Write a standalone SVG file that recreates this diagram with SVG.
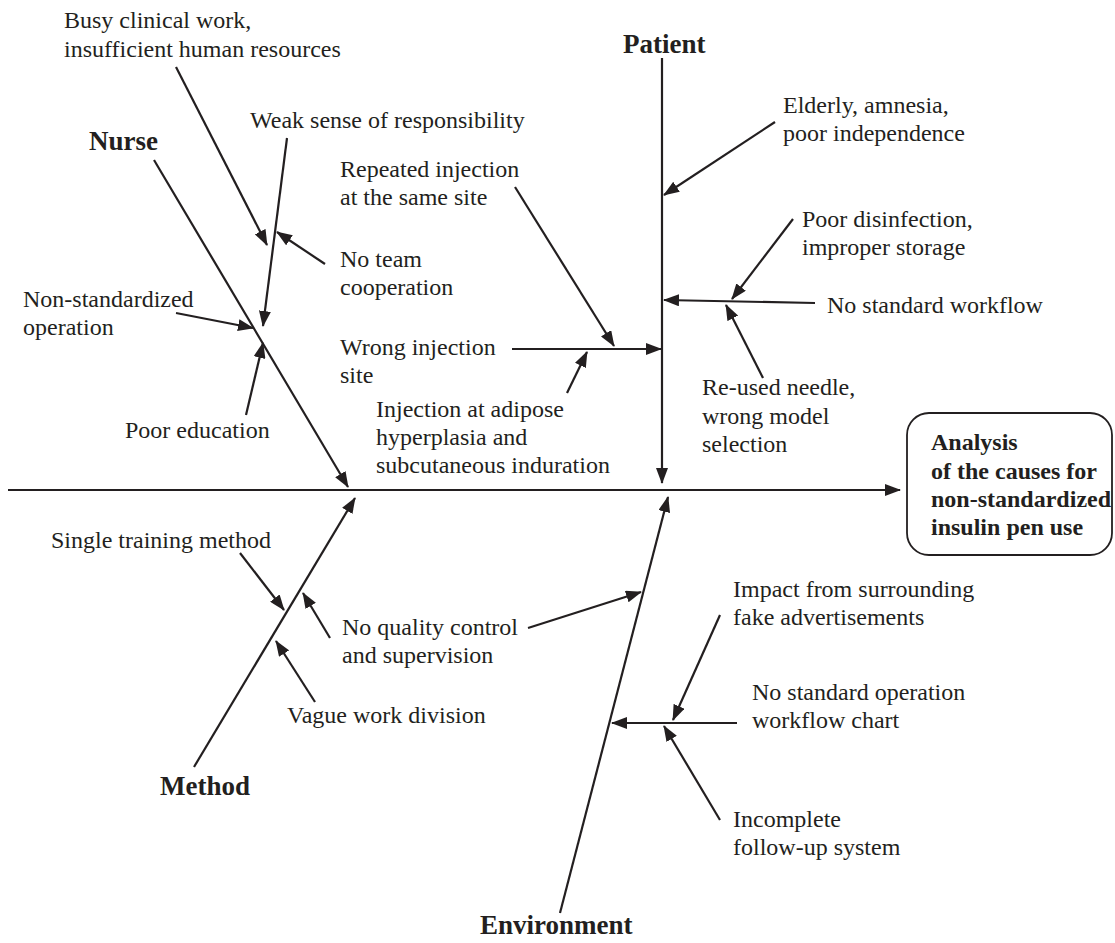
<svg xmlns="http://www.w3.org/2000/svg" width="1115" height="943" viewBox="0 0 1115 943">
<style>
.t{font-family:"Liberation Serif","Times New Roman",serif;font-size:24px;fill:#231f20}
.c{font-family:"Liberation Serif","Times New Roman",serif;font-size:27px;font-weight:bold;fill:#231f20}
.b{font-family:"Liberation Serif","Times New Roman",serif;font-size:24px;font-weight:bold;fill:#231f20}
.l{stroke:#231f20;stroke-width:2.2;fill:none}
.a{stroke:#231f20;stroke-width:2.2;fill:none;marker-end:url(#ah)}
</style>
<defs>
<marker id="ah" viewBox="0 0 16 12" markerWidth="16" markerHeight="12" refX="15" refY="6" orient="auto" markerUnits="userSpaceOnUse">
<path d="M0,0 L16,6 L0,12 z" fill="#231f20"/>
</marker>
</defs>
<rect width="1115" height="943" fill="#ffffff"/>
<g id="connectors">
<line class="a" x1="8" y1="490" x2="900" y2="490"/>
<line class="a" x1="154" y1="160" x2="348" y2="487"/>
<line class="a" x1="176" y1="67" x2="267" y2="245"/>
<line class="a" x1="287" y1="138" x2="263" y2="326"/>
<line class="a" x1="325" y1="264" x2="277" y2="232"/>
<line class="a" x1="176" y1="313" x2="253" y2="328"/>
<line class="a" x1="246" y1="415" x2="263" y2="343"/>
<line class="a" x1="662" y1="58" x2="662" y2="483"/>
<line class="a" x1="775" y1="122" x2="664" y2="195"/>
<line class="a" x1="815" y1="303" x2="664" y2="300"/>
<line class="a" x1="793" y1="219" x2="732" y2="299"/>
<line class="a" x1="763" y1="378" x2="726" y2="305"/>
<line class="a" x1="512" y1="349" x2="661" y2="349"/>
<line class="a" x1="515" y1="187" x2="614" y2="346"/>
<line class="a" x1="567" y1="393" x2="587" y2="352"/>
<line class="a" x1="194" y1="767" x2="355" y2="498"/>
<line class="a" x1="240" y1="553" x2="284" y2="610"/>
<line class="a" x1="330" y1="638" x2="303" y2="593"/>
<line class="a" x1="315" y1="702" x2="276" y2="641"/>
<line class="a" x1="560" y1="913" x2="668" y2="497"/>
<line class="a" x1="528" y1="628" x2="641" y2="592"/>
<line class="a" x1="737" y1="723" x2="612" y2="723"/>
<line class="a" x1="720" y1="615" x2="673" y2="720"/>
<line class="a" x1="720" y1="820" x2="664" y2="726"/>
</g>
<g id="effect">
<rect x="907" y="413" width="205" height="142" rx="22" ry="22" fill="#ffffff" stroke="#231f20" stroke-width="1.8"/>
<text class="b" x="931" y="450">Analysis</text>
<text class="b" x="931" y="479">of the causes for</text>
<text class="b" x="931" y="507">non-standardized</text>
<text class="b" x="931" y="535">insulin pen use</text>
</g>
<g id="nurse"><text class="c" x="89" y="150">Nurse</text></g>
<g id="patient"><text class="c" x="623" y="53">Patient</text></g>
<g id="method"><text class="c" x="160" y="795">Method</text></g>
<g id="environment"><text class="c" x="480" y="934">Environment</text></g>
<g id="busy"><text class="t" x="64" y="28">Busy clinical work,</text><text class="t" x="64" y="57">insufficient human resources</text></g>
<g id="weak"><text class="t" x="250" y="128">Weak sense of responsibility</text></g>
<g id="noteam"><text class="t" x="340" y="267">No team</text><text class="t" x="340" y="295">cooperation</text></g>
<g id="nonstd"><text class="t" x="23" y="307">Non-standardized</text><text class="t" x="23" y="335">operation</text></g>
<g id="pooredu"><text class="t" x="125" y="438">Poor education</text></g>
<g id="elderly"><text class="t" x="783" y="113">Elderly, amnesia,</text><text class="t" x="783" y="141">poor independence</text></g>
<g id="repeated"><text class="t" x="340" y="177">Repeated injection</text><text class="t" x="340" y="205">at the same site</text></g>
<g id="disinfection"><text class="t" x="802" y="227">Poor disinfection,</text><text class="t" x="802" y="255">improper storage</text></g>
<g id="noworkflow"><text class="t" x="827" y="313">No standard workflow</text></g>
<g id="wrongsite"><text class="t" x="340" y="355">Wrong injection</text><text class="t" x="340" y="383">site</text></g>
<g id="reused"><text class="t" x="702" y="395">Re-used needle,</text><text class="t" x="702" y="424">wrong model</text><text class="t" x="702" y="452">selection</text></g>
<g id="adipose"><text class="t" x="376" y="417">Injection at adipose</text><text class="t" x="376" y="445">hyperplasia and</text><text class="t" x="376" y="473">subcutaneous induration</text></g>
<g id="singletraining"><text class="t" x="51" y="548">Single training method</text></g>
<g id="quality"><text class="t" x="342" y="635">No quality control</text><text class="t" x="342" y="663">and supervision</text></g>
<g id="vague"><text class="t" x="287" y="723">Vague work division</text></g>
<g id="impact"><text class="t" x="733" y="597">Impact from surrounding</text><text class="t" x="733" y="625">fake advertisements</text></g>
<g id="nochart"><text class="t" x="752" y="700">No standard operation</text><text class="t" x="752" y="728">workflow chart</text></g>
<g id="followup"><text class="t" x="733" y="827">Incomplete</text><text class="t" x="733" y="855">follow-up system</text></g>
</svg>
